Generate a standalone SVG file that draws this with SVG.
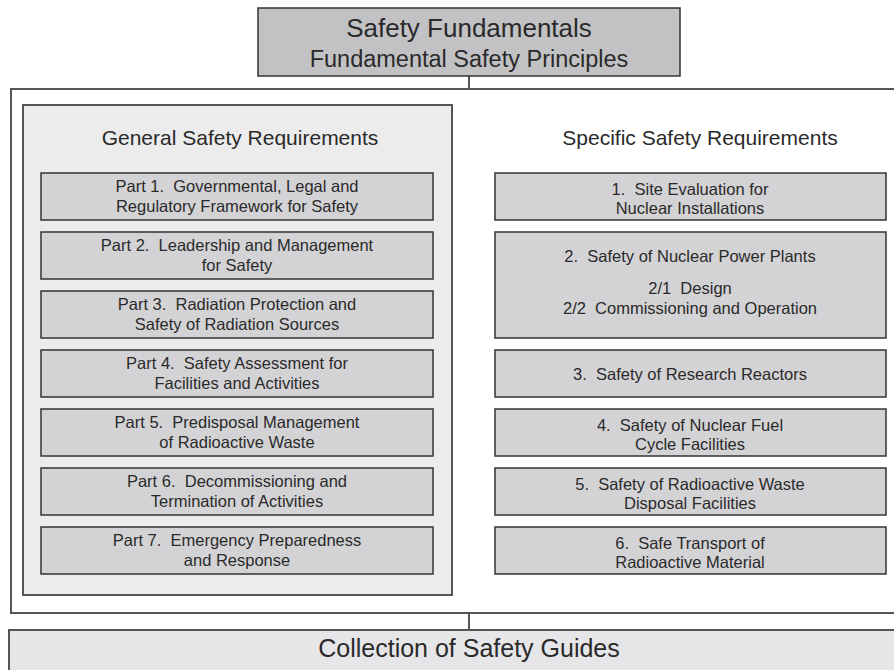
<svg xmlns="http://www.w3.org/2000/svg" width="894" height="670" viewBox="0 0 894 670">
<style>
text{font-family:"Liberation Sans",Arial,sans-serif;fill:#2a2a2a;text-anchor:middle;white-space:pre}
.box{fill:#d3d3d5;stroke:#333;stroke-width:1.5}
.top{fill:#c2c2c4;stroke:#333;stroke-width:1.5}
.frame{fill:#fff;stroke:#555;stroke-width:2}
.panel{fill:#ececec;stroke:#555;stroke-width:2}
.coll{fill:#e6e6e8;stroke:#555;stroke-width:2}
.conn{stroke:#555;stroke-width:2;fill:none}
.t{font-size:16.5px}
.h{font-size:21px}
</style>
<rect width="894" height="670" fill="#fff"/>
<g id="connectors">
<line class="conn" x1="469" y1="76" x2="469" y2="89"/>
<line class="conn" x1="469" y1="613" x2="469" y2="630"/>
</g>
<g id="frame"><rect class="frame" x="11" y="89" width="900" height="524"/></g>
<g id="safety-fundamentals">
<rect class="top" x="258" y="8" width="422" height="68"/>
<text x="469" y="37" style="font-size:26px">Safety Fundamentals</text>
<text x="469" y="67" style="font-size:23.5px">Fundamental Safety Principles</text>
</g>
<g id="general">
<rect class="panel" x="23" y="105" width="429" height="490"/>
<text class="h" x="240" y="145">General Safety Requirements</text>
</g>
<g id="part1"><rect class="box" x="41" y="173" width="392" height="47"/><text class="t" x="237" y="192" xml:space="preserve">Part 1.  Governmental, Legal and</text><text class="t" x="237" y="212">Regulatory Framework for Safety</text></g>
<g id="part2"><rect class="box" x="41" y="232" width="392" height="47"/><text class="t" x="237" y="251" xml:space="preserve">Part 2.  Leadership and Management</text><text class="t" x="237" y="271">for Safety</text></g>
<g id="part3"><rect class="box" x="41" y="291" width="392" height="47"/><text class="t" x="237" y="310" xml:space="preserve">Part 3.  Radiation Protection and</text><text class="t" x="237" y="330">Safety of Radiation Sources</text></g>
<g id="part4"><rect class="box" x="41" y="350" width="392" height="47"/><text class="t" x="237" y="369" xml:space="preserve">Part 4.  Safety Assessment for</text><text class="t" x="237" y="389">Facilities and Activities</text></g>
<g id="part5"><rect class="box" x="41" y="409" width="392" height="47"/><text class="t" x="237" y="428" xml:space="preserve">Part 5.  Predisposal Management</text><text class="t" x="237" y="448">of Radioactive Waste</text></g>
<g id="part6"><rect class="box" x="41" y="468" width="392" height="47"/><text class="t" x="237" y="487" xml:space="preserve">Part 6.  Decommissioning and</text><text class="t" x="237" y="507">Termination of Activities</text></g>
<g id="part7"><rect class="box" x="41" y="527" width="392" height="47"/><text class="t" x="237" y="546" xml:space="preserve">Part 7.  Emergency Preparedness</text><text class="t" x="237" y="566">and Response</text></g>
<g id="specific"><text class="h" x="700" y="145">Specific Safety Requirements</text></g>
<g id="ssr1"><rect class="box" x="495" y="173" width="391" height="47"/><text class="t" x="690" y="195" xml:space="preserve">1.  Site Evaluation for</text><text class="t" x="690" y="214">Nuclear Installations</text></g>
<g id="ssr2"><rect class="box" x="495" y="232" width="391" height="106"/><text class="t" x="690" y="262" xml:space="preserve">2.  Safety of Nuclear Power Plants</text><text class="t" x="690" y="294" xml:space="preserve">2/1  Design</text><text class="t" x="690" y="314" xml:space="preserve">2/2  Commissioning and Operation</text></g>
<g id="ssr3"><rect class="box" x="495" y="350" width="391" height="47"/><text class="t" x="690" y="380" xml:space="preserve">3.  Safety of Research Reactors</text></g>
<g id="ssr4"><rect class="box" x="495" y="409" width="391" height="47"/><text class="t" x="690" y="431" xml:space="preserve">4.  Safety of Nuclear Fuel</text><text class="t" x="690" y="450">Cycle Facilities</text></g>
<g id="ssr5"><rect class="box" x="495" y="468" width="391" height="47"/><text class="t" x="690" y="490" xml:space="preserve">5.  Safety of Radioactive Waste</text><text class="t" x="690" y="509">Disposal Facilities</text></g>
<g id="ssr6"><rect class="box" x="495" y="527" width="391" height="47"/><text class="t" x="690" y="549" xml:space="preserve">6.  Safe Transport of</text><text class="t" x="690" y="568">Radioactive Material</text></g>
<g id="collection">
<rect class="coll" x="9" y="630" width="900" height="60"/>
<text x="469" y="657" style="font-size:25px">Collection of Safety Guides</text>
</g>
</svg>
